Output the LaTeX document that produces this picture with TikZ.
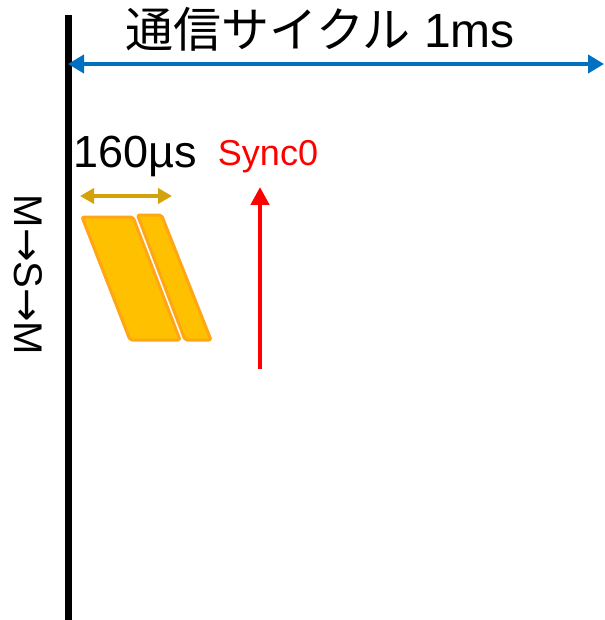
\documentclass[tikz,border=0pt]{standalone}
\usepackage{fontspec}
\setmainfont{Liberation Sans}
\newfontfamily\jpfont{Noto Sans CJK JP}
\newfontfamily\arrfont{DejaVu Sans}
\usetikzlibrary{arrows.meta}
\definecolor{cycblue}{HTML}{0070C0}
\definecolor{goldarr}{HTML}{D4A20A}
\definecolor{frfill}{HTML}{FFC000}
\definecolor{frdraw}{HTML}{FFA616}
\definecolor{syncred}{HTML}{FF0000}
\tikzset{
  frame/.style={fill=frfill, draw=frdraw, line width=3pt, rounded corners=2pt, line join=round},
  lbl/.style={inner sep=0pt, anchor=center},
}
\begin{document}
\begin{tikzpicture}[x=1pt,y=-1pt]
\useasboundingbox (0,0) rectangle (604,620);
% time axis
\coordinate (axtop) at (68,15);
\coordinate (axbot) at (68,620);
\draw[line width=7pt] (axtop) -- (axbot);
% cycle arrow
\coordinate (cycL) at (68,64);
\coordinate (cycR) at (604,64);
\draw[cycblue, line width=4.5pt, {Triangle[length=16pt,width=18pt]}-{Triangle[length=16pt,width=18pt]}] (cycL) -- (cycR);
\node[lbl] (title) at (320,29) {\fontsize{48}{54}\selectfont{\jpfont 通信サイクル} 1ms};
% 160us
\node[lbl] (dur) at (135,156) {\fontsize{45}{50}\selectfont 160µs};
\coordinate (durL) at (80,196);
\coordinate (durR) at (172,196);
\draw[goldarr, line width=4pt, {Triangle[length=14pt,width=15pt]}-{Triangle[length=14pt,width=15pt]}] (durL) -- (durR);
% frames
\draw[frame] (82,217) -- (133,217) -- (180,340) -- (130,340) -- cycle;
\draw[frame] (137.5,215) -- (161.5,215) -- (211,340) -- (185,340) -- cycle;
% sync0
\node[lbl, text=syncred] (sync) at (268,157) {\fontsize{36}{40}\selectfont Sync0};
\coordinate (syncB) at (260,369);
\coordinate (syncT) at (260,187);
\draw[syncred, line width=4.5pt, -{Triangle[length=18pt,width=18pt]}] (syncB) -- (syncT);
% M->S->M
\node[lbl, rotate=-90] (msm) at (28,275) {\fontsize{40}{44}\selectfont M{\arrfont →}S{\arrfont →}M};
\end{tikzpicture}
\end{document}
